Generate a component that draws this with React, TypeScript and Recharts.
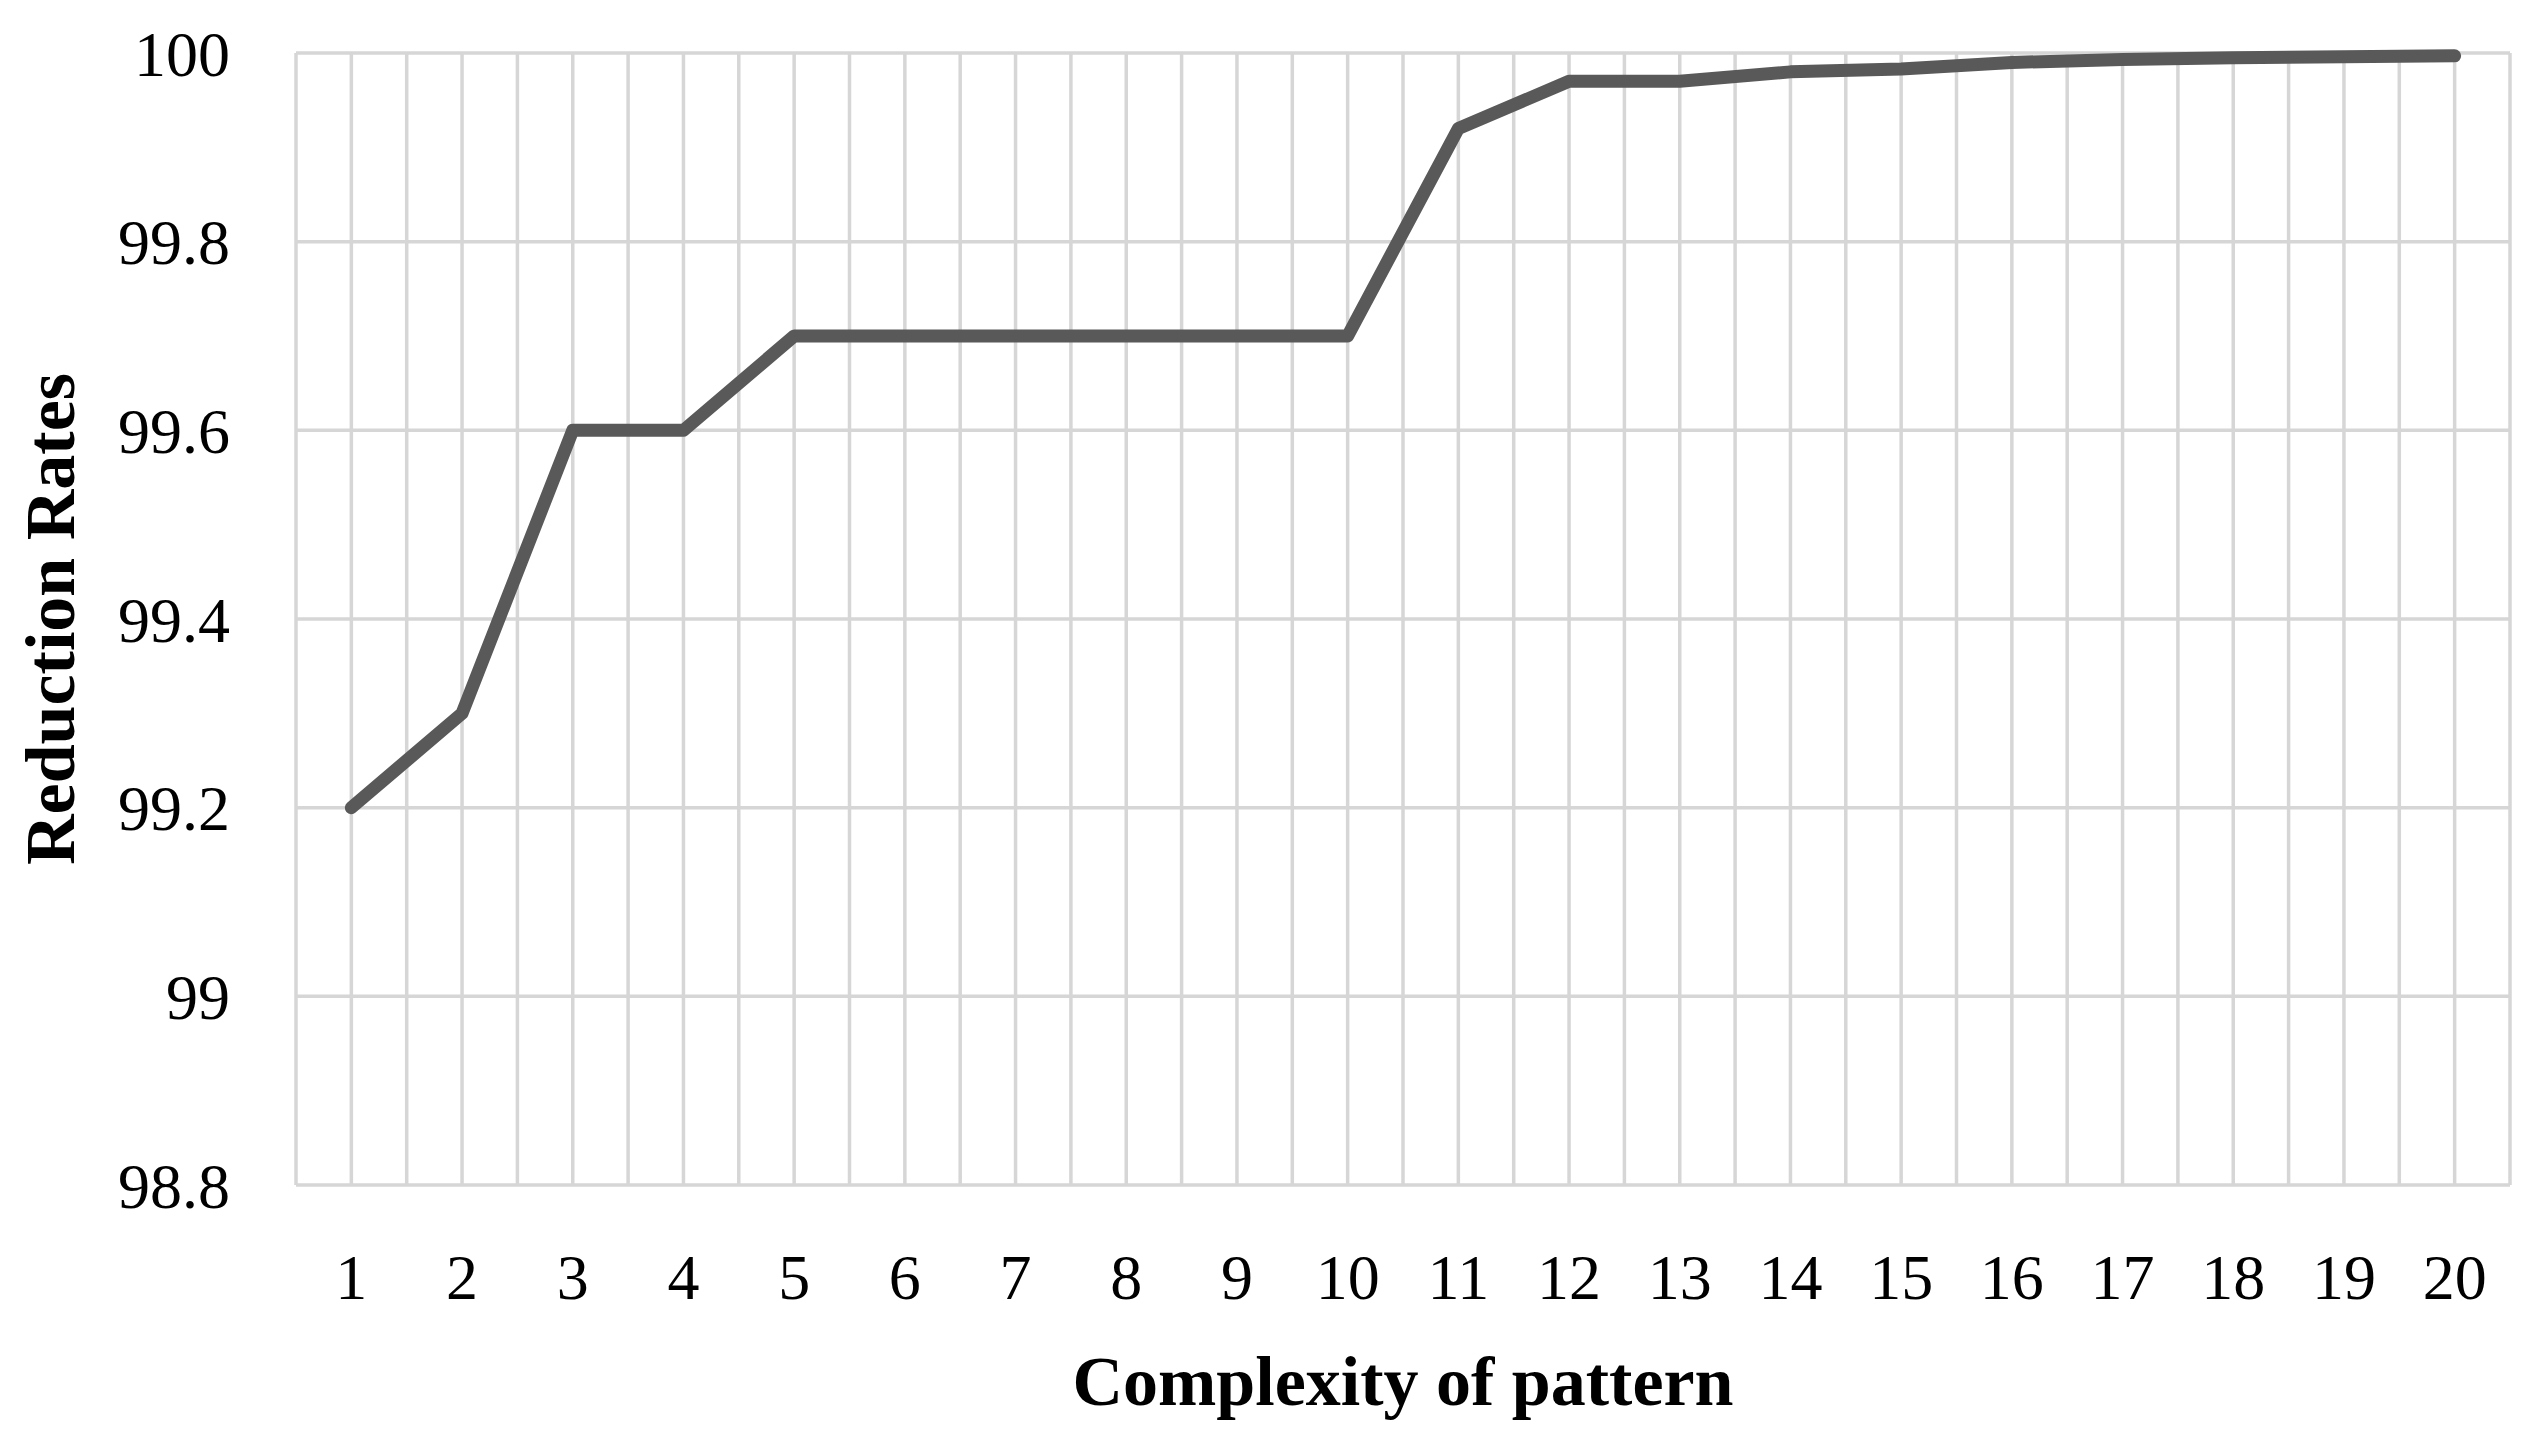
import { LineChart, Line, XAxis, YAxis, CartesianGrid } from 'recharts';

const complexity = [1, 2, 3, 4, 5, 6, 7, 8, 9, 10, 11, 12, 13, 14, 15, 16, 17, 18, 19, 20];
const reductionRates = [
  99.2, 99.3, 99.6, 99.6, 99.7, 99.7, 99.7, 99.7, 99.7, 99.7,
  99.92, 99.97, 99.97, 99.98, 99.983, 99.99, 99.993, 99.995, 99.996, 99.997,
];
const yTicks = [98.8, 99, 99.2, 99.4, 99.6, 99.8, 100];

// gridlines sit on every category and halfway between them
const xTicks = [complexity[0] - 0.5, ...complexity.flatMap((c) => [c, c + 0.5])];

const data = complexity.map((c, i) => ({ x: c, rate: reductionRates[i] }));

const serif = '"Liberation Serif", "Times New Roman", serif';
const gridColor = '#d6d6d6';

function YTitle({ viewBox }: any) {
  const cx = viewBox.x + 42;
  const cy = viewBox.y + viewBox.height / 2;
  return (
    <text
      x={cx}
      y={cy}
      transform={`rotate(-90, ${cx}, ${cy})`}
      textAnchor="middle"
      dominantBaseline="central"
      fontFamily={serif}
      fontWeight="bold"
      fontSize={70}
      fill="#000"
    >
      Reduction Rates
    </text>
  );
}

function XTitle({ viewBox }: any) {
  return (
    <text
      x={viewBox.x + viewBox.width / 2}
      y={viewBox.y + 220}
      textAnchor="middle"
      fontFamily={serif}
      fontWeight="bold"
      fontSize={70}
      fill="#000"
    >
      Complexity of pattern
    </text>
  );
}

export default function App() {
  return (
    <LineChart
      width={2521}
      height={1430}
      data={data}
      margin={{ top: 45, right: 19, left: 0, bottom: 0 }}
    >
      <CartesianGrid stroke={gridColor} strokeWidth={3.5} />
      <XAxis
        dataKey="x"
        type="number"
        domain={[0.5, 20.5]}
        ticks={xTicks}
        interval={0}
        tickFormatter={(v: number) => (Number.isInteger(v) ? String(v) : '')}
        axisLine={false}
        tickLine={false}
        tickSize={0}
        tickMargin={69}
        height={253}
        tick={{ fontSize: 64, fontFamily: serif, fill: '#000' }}
        label={{ content: <XTitle /> }}
      />
      <YAxis
        domain={[98.8, 100]}
        ticks={yTicks}
        interval={0}
        tickFormatter={(v: number) => String(v)}
        axisLine={false}
        tickLine={false}
        tickSize={0}
        tickMargin={66}
        width={288}
        tick={{ fontSize: 64, fontFamily: serif, fill: '#000' }}
        label={{ content: <YTitle /> }}
      />
      <Line
        type="linear"
        dataKey="rate"
        stroke="#595959"
        strokeWidth={13}
        strokeLinejoin="round"
        strokeLinecap="round"
        dot={false}
        isAnimationActive={false}
      />
    </LineChart>
  );
}
